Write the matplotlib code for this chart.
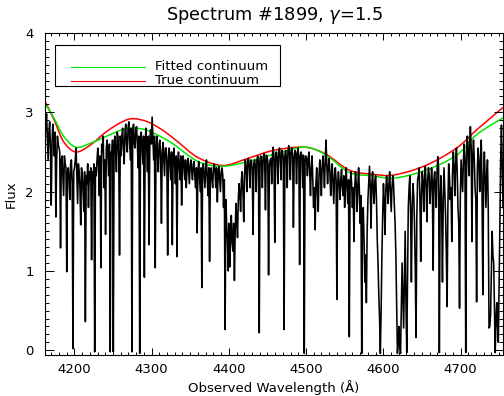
import matplotlib
matplotlib.use("Agg")
import matplotlib.pyplot as plt
import numpy as np
from matplotlib.patches import Rectangle, PathPatch
from matplotlib.lines import Line2D
from matplotlib.path import Path
from matplotlib.ticker import MultipleLocator

# observed flux, one value every ~1 A from 4160 to 4755 A,
# 20 values per row
flux = [
    3.08, 2.90, 2.65, 2.85, 2.98, 2.70, 2.40, 2.75, 2.88, 2.55, 1.83, 2.60, 2.85, 2.70, 2.45, 2.75, 1.68, 2.40, 2.70, 2.60,
    2.55, 2.50, 1.29, 2.40, 2.45, 2.20, 1.95, 2.45, 2.35, 2.30, 0.99, 2.25, 2.30, 2.15, 1.90, 2.35, 2.40, 2.10, 0.02, 2.25,
    2.30, 2.40, 2.55, 2.20, 1.85, 2.35, 2.25, 2.05, 1.58, 2.30, 2.20, 2.00, 1.75, 2.25, 0.36, 2.20, 2.10, 2.35, 1.80, 2.25,
    2.15, 2.30, 1.14, 2.25, 2.10, 2.35, -0.02, 2.30, 2.20, 2.40, 2.55, 2.30, 1.95, 2.45, 1.04, 2.60, 2.50, 2.70, 2.05, 2.40,
    1.46, 2.55, 2.65, 2.45, 2.20, 2.60, -0.02, 2.50, 2.45, 2.65, -0.02, 2.55, 2.70, 2.50, 2.25, 2.75, 2.70, 2.45, 1.20, 2.70,
    2.45, 2.70, 2.80, 2.55, 2.35, 2.75, 2.85, 2.60, 2.50, 2.80, 2.88, 2.65, 2.40, 2.80, -0.02, 2.75, 2.85, 2.60, 2.55, 2.80,
    2.82, 2.60, 2.30, 2.70, -0.04, 2.65, 2.75, 2.55, 2.35, 2.70, 0.92, 2.60, 2.80, 2.55, 2.25, 2.70, 1.33, 2.65, 2.78, 2.60,
    2.94, 2.65, 2.40, 2.70, 1.04, 2.55, 2.70, 2.45, 2.25, 2.60, 2.65, 2.40, 1.60, 2.50, 2.62, 2.40, 2.20, 2.55, 2.55, 2.35,
    1.20, 2.45, 2.55, 2.35, 2.15, 2.50, 1.33, 2.40, 2.55, 2.35, 2.10, 2.45, 1.18, 2.40, 2.50, 2.30, 2.15, 2.45, 1.83, 2.35,
    2.45, 2.30, 2.15, 2.40, 2.05, 2.30, 2.42, 2.25, 2.10, 2.35, 2.40, 2.25, 2.15, 2.35, 2.38, 2.20, 2.05, 2.30, 1.48, 2.25,
    2.38, 2.20, 2.00, 2.30, 0.79, 2.25, 2.35, 2.20, 2.05, 2.30, 2.40, 2.15, 1.95, 2.30, 1.12, 2.25, 2.30, 2.15, 2.05, 2.30,
    2.35, 2.25, 2.05, 2.30, 1.87, 2.20, 2.32, 2.15, 2.00, 2.25, 2.30, 2.20, 1.80, 2.15, 0.26, 1.90, 1.60, 1.40, 1.00, 1.60,
    1.05, 1.45, 1.70, 1.35, 1.25, 1.60, 0.88, 1.50, 1.85, 1.65, 1.42, 1.90, 2.10, 1.95, 1.75, 2.15, 2.25, 2.00, 1.62, 2.20,
    2.40, 2.30, 2.00, 2.38, 2.42, 2.30, 2.05, 2.40, 2.38, 2.28, 1.46, 2.36, 2.40, 2.32, 2.00, 2.40, 2.45, 2.36, 0.22, 2.40,
    2.45, 2.38, 2.05, 2.42, 2.48, 2.38, 1.77, 2.46, 2.45, 2.38, 0.95, 2.32, 2.40, 2.42, 2.10, 2.46, 2.56, 2.38, 1.36, 2.46,
    2.50, 2.42, 2.10, 2.48, 2.55, 2.42, 2.15, 2.52, 2.50, 2.42, 0.26, 2.46, 2.52, 2.42, 2.05, 2.52, 2.58, 2.46, 2.15, 2.52,
    2.55, 2.46, 1.55, 2.42, 2.52, 2.50, 2.10, 2.46, 2.55, 2.42, 1.08, 2.46, 2.50, 2.42, 2.05, 2.46, -0.04, 2.38, 2.45, 2.42,
    2.20, 2.40, 2.50, 2.25, 1.95, 2.30, 2.45, 2.15, 1.80, 2.05, 1.52, 2.10, 2.30, 2.00, 1.75, 2.20, 2.40, 2.25, 1.95, 2.30,
    2.45, 2.30, 2.05, 2.40, 2.65, 2.35, 2.10, 2.30, 2.42, 2.25, 1.95, 2.20, 2.35, 2.10, 1.85, 2.20, 2.30, 2.15, 0.64, 2.10,
    2.25, 2.10, 1.90, 2.15, 2.28, 2.05, 1.95, 2.20, 1.80, 2.10, 2.30, 2.05, 1.85, 2.15, 0.17, 2.05, 2.25, 2.10, 1.80, 2.05,
    1.37, 2.05, 2.25, 2.10, 1.75, 2.05, 2.30, 2.00, 1.60, 1.95, -0.04, 1.70, 1.80, 1.40, 0.86, 1.20, 0.60, 1.50, 1.90, 2.10,
    2.32, 2.05, 1.54, 2.10, 2.25, 2.00, 1.85, 2.15, 2.20, 1.90, 1.40, 1.10, 0.70, 0.40, -0.04, 0.50, 1.20, 1.70, 2.10, 1.85,
    1.46, 2.00, 2.20, 2.05, 1.85, 2.10, 2.25, 2.00, 1.75, 2.05, 2.20, 2.10, 1.83, 1.60, 1.20, 0.60, -0.04, 0.10, 0.30, 0.05,
    -0.04, 0.50, 1.10, 0.70, 0.28, 0.90, 1.50, 0.60, -0.03, 0.90, 1.80, 2.05, 2.20, 1.70, 0.86, 1.80, 2.10, 1.95, 1.60, 1.00,
    0.16, 1.70, 2.15, 2.20, 2.30, 1.90, 1.12, 1.95, 2.25, 2.10, 1.75, 2.20, 2.32, 2.05, 1.62, 2.15, 2.30, 2.20, 1.85, 2.05,
    2.30, 2.10, 1.01, 2.15, 2.25, 2.05, 1.80, 2.25, 2.44, 2.30, -0.03, 1.90, 2.20, 1.80, 0.86, 1.90, 2.30, 2.00, 1.70, 1.20,
    0.55, 1.80, 2.35, 2.20, 1.90, 2.05, 1.37, 2.25, 2.50, 2.30, 1.95, 2.35, 2.55, 2.25, 1.80, 1.60, 0.53, 1.90, 2.40, 2.20,
    2.00, 2.40, 2.60, 2.35, -0.03, 2.45, 2.70, 2.50, 2.20, 2.60, 2.82, 2.55, 1.37, 2.45, 2.65, 2.40, 2.05, 1.90, 0.61, 2.30,
    2.55, 2.35, 2.00, 2.40, 2.65, 2.00, 0.70, 2.20, 2.50, 2.15, 1.80, 2.20, 2.40, 1.80, 0.28, 0.30, 0.45, 1.00, 1.50, 1.20,
    1.10, 0.50, -0.03, 0.40, 0.60, 0.30, 0.10, 0.80, 1.60, 2.40, 2.84, 2.30, 1.80,
]
wave = np.linspace(4160.0, 4755.0, len(flux))

true_wave = [4161, 4174, 4186, 4202, 4221, 4242, 4262, 4276, 4295, 4315, 4335, 4360,
             4392, 4425, 4458, 4498, 4526, 4556, 4586, 4614, 4655, 4695, 4721, 4755]
true_cont = [3.16, 2.90, 2.63, 2.50, 2.59, 2.76, 2.88, 2.92, 2.88, 2.77, 2.62, 2.43,
             2.33, 2.42, 2.52, 2.56, 2.47, 2.27, 2.22, 2.21, 2.33, 2.55, 2.78, 3.06]

fit_wave = [4161, 4174, 4186, 4202, 4221, 4242, 4262, 4276, 4295, 4325, 4360, 4392,
            4425, 4458, 4498, 4526, 4556, 4586, 4614, 4655, 4695, 4721, 4755]
fit_cont = [3.13, 2.92, 2.70, 2.56, 2.61, 2.70, 2.78, 2.80, 2.77, 2.62, 2.38, 2.32,
            2.38, 2.47, 2.56, 2.46, 2.24, 2.20, 2.17, 2.27, 2.46, 2.72, 2.93]

GREEN = "#00e600"
RED = "#ff0000"


def smooth_path(x, y):
    # catmull-rom through the knots, drawn as cubic beziers
    pts = np.column_stack([x, y]).astype(float)
    n = len(pts)
    verts = [pts[0]]
    codes = [Path.MOVETO]
    for i in range(n - 1):
        p0 = pts[max(i - 1, 0)]
        p1 = pts[i]
        p2 = pts[i + 1]
        p3 = pts[min(i + 2, n - 1)]
        verts += [p1 + (p2 - p0) / 6, p2 - (p3 - p1) / 6, p2]
        codes += [Path.CURVE4] * 3
    return Path(verts, codes)


fig = plt.figure(figsize=(5.04, 3.96), dpi=100)
ax = fig.add_axes([45 / 504, 41 / 396, 458 / 504, 322 / 396])

ax.plot(wave, flux, color="black", lw=1.15)
ax.add_patch(PathPatch(smooth_path(true_wave, true_cont), fill=False,
                       edgecolor=RED, lw=1.1))
ax.add_patch(PathPatch(smooth_path(fit_wave, fit_cont), fill=False,
                       edgecolor=GREEN, lw=1.1))

ax.set_xlim(4162, 4755)
ax.set_ylim(-0.06, 4.0)
ax.xaxis.set_major_locator(MultipleLocator(100))
ax.xaxis.set_minor_locator(MultipleLocator(10))
ax.yaxis.set_major_locator(MultipleLocator(1))
ax.yaxis.set_minor_locator(MultipleLocator(0.1))
ax.tick_params(which="both", direction="in", top=True, right=True,
               labelsize=9.5, width=0.7)
ax.tick_params(axis="x", which="major", length=4.7, pad=6)
ax.tick_params(axis="x", which="minor", length=2.3)
ax.tick_params(axis="y", which="major", length=6.5, pad=8)
ax.tick_params(axis="y", which="minor", length=3.2)
for s in ax.spines.values():
    s.set_linewidth(0.8)

ax.set_xlabel("Observed Wavelength (Å)", fontsize=9.5, labelpad=3)
ax.set_ylabel("Flux", fontsize=9.5, labelpad=5.5)
ax.set_title(r"Spectrum #1899, $\gamma$=1.5", fontsize=12.8, pad=9)

# legend box drawn the IDL way
ax.add_patch(Rectangle((0.022, 0.835), 0.491, 0.128, transform=ax.transAxes,
                       fill=False, edgecolor="black", lw=0.8))
ax.add_line(Line2D([0.057, 0.218], [0.895, 0.895], transform=ax.transAxes,
                   color=GREEN, lw=0.8))
ax.add_line(Line2D([0.057, 0.218], [0.851, 0.851], transform=ax.transAxes,
                   color=RED, lw=0.8))
ax.text(0.240, 0.895, "Fitted continuum", transform=ax.transAxes,
        fontsize=9.5, va="center")
ax.text(0.240, 0.851, "True continuum", transform=ax.transAxes,
        fontsize=9.5, va="center")

fig.savefig("out.png", dpi=100)
